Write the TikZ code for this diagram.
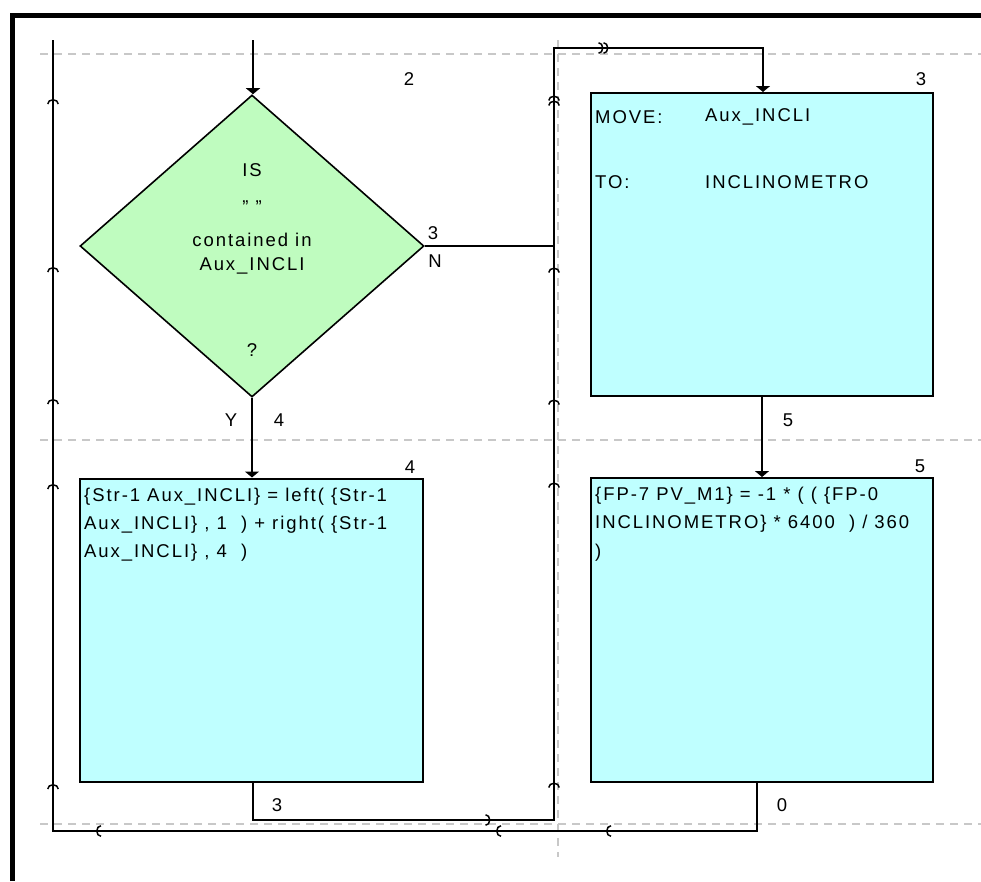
\documentclass[tikz,border=0pt]{standalone}
\usepackage{fontspec}
\setmainfont{Liberation Sans}[LetterSpace=10.5]
\usetikzlibrary{arrows.meta,decorations.markings,shapes.geometric}
\definecolor{dgreen}{HTML}{BFFCBF}
\definecolor{bcyan}{HTML}{BFFFFF}
\definecolor{gridgrey}{HTML}{C8C8C8}
\newcommand{\chevmark}{\arrow{Arc Barb[width=12pt,length=5pt,line width=1.5pt]}}
\begin{document}
\begin{tikzpicture}[x=1pt,y=-1pt,
  conn/.style={line width=1.8pt, draw=black},
  entry/.style={conn, -{Triangle[width=14pt,length=6pt]}},
  gridln/.style={draw=gridgrey, line width=1.5pt, dash pattern=on 8pt off 6pt},
  flowbox/.style={draw=black, line width=2pt, fill=bcyan, rectangle, inner sep=0pt},
  decbox/.style={draw=black, line width=1.6pt, fill=dgreen, diamond, inner sep=0pt},
  txt/.style={inner sep=0pt, font=\fontsize{18.5}{22}\selectfont},
  ltxt/.style={txt, anchor=west},
  marksA/.style={postaction={decorate}, decoration={markings,
    mark=at position 199pt with {\chevmark},
    mark=at position 309pt with {\chevmark},
    mark=at position 709pt with {\chevmark},
    mark=at position 799pt with {\chevmark},
    mark=at position 1099pt with {\chevmark},
    mark=at position 1184pt with {\chevmark},
    mark=at position 1316pt with {\chevmark},
    mark=at position 1484pt with {\chevmark}}},
  marksB/.style={postaction={decorate}, decoration={markings,
    mark=at position 275pt with {\chevmark},
    mark=at position 376pt with {\chevmark},
    mark=at position 676pt with {\chevmark},
    mark=at position 759pt with {\chevmark},
    mark=at position 891pt with {\chevmark},
    mark=at position 1058pt with {\chevmark},
    mark=at position 1063pt with {\chevmark},
    mark=at position 1160pt with {\chevmark},
    mark=at position 1165pt with {\chevmark}}}
]
\useasboundingbox (0,0) rectangle (981,881);
\fill[white] (0,0) rectangle (981,881);
% frame
\draw[line width=5pt] (12.5,881) -- (12.5,15.5) -- (981,15.5);
% grid
\draw[gridln] (40,54) -- (981,54);
\draw[gridln] (40,440) -- (981,440);
\draw[gridln] (40,824) -- (981,824);
\draw[gridln] (558,40) -- (558,857);

% shapes
\node[decbox, minimum width=344pt, minimum height=302pt] (dia) at (252,246) {};
\node[flowbox, minimum width=343pt, minimum height=303pt] (b4) at (251,630) {};
\node[flowbox, minimum width=342pt, minimum height=303pt] (b3) at (762,244.5) {};
\node[flowbox, minimum width=342pt, minimum height=304pt] (b5) at (762,630) {};

% free ends
\coordinate (ttop) at (253,40);
\coordinate (ltop) at (53,40);
\coordinate (lbot) at (53,831);
\coordinate (mbot) at (554,820);
\coordinate (mtop) at (554,48);

% connectors
\draw[entry] (ttop) -- (ttop |- dia.north);
\draw[entry] (dia.south) -- (dia.south |- b4.north);
\draw[entry] (b3.south) -- (b5.north);
\draw[conn] (dia.east) -- (dia.east -| mtop);
\draw[conn, marksA] ([xshift=-5pt]b5.south) |- (lbot) -- (ltop);
\draw[entry, marksB] ([xshift=2pt]b4.south) |- (mbot) -- (mtop) -| ([xshift=1pt]b3.north);

% diamond text
\node[txt] (d1) at (252,170) {IS};
\node[txt] (d2) at (252,207) {" "};
\node[txt] (d3) at (252,240) {contained in};
\node[txt] (d4) at (252,266) {Aux\_INCLI};
\node[txt] (d5) at (252,350) {?};

% labels
\node[txt] (l2) at (409,79) {2};
\node[txt] (l3a) at (921,79) {3};
\node[txt] (l3n) at (433,233) {3};
\node[txt] (lN) at (435,261) {N};
\node[txt] (lY) at (231,420) {Y};
\node[txt] (l4a) at (279,420) {4};
\node[txt] (l4b) at (410,467) {4};
\node[txt] (l5a) at (788,420) {5};
\node[txt] (l5b) at (920,466) {5};
\node[txt] (l3b) at (277,805) {3};
\node[txt] (l0) at (782,805) {0};

% box 3 text
\node[ltxt] (m1) at (595,117) {MOVE:};
\node[ltxt] (m2) at (705,117) {Aux\_INCLI};
\node[ltxt] (m3) at (595,182) {TO:};
\node[ltxt] (m4) at (705,182) {INCLINOMETRO};

% box 4 text
\node[ltxt] (s1) at (84,497) {\{Str-1 Aux\_INCLI\} = left( \{Str-1};
\node[ltxt] (s2) at (84,525) {Aux\_INCLI\} , 1 \ ) + right( \{Str-1};
\node[ltxt] (s3) at (84,553) {Aux\_INCLI\} , 4 \ )};

% box 5 text
\node[ltxt] (f1) at (595,496) {\{FP-7 PV\_M1\} = -1 * ( ( \{FP-0};
\node[ltxt] (f2) at (595,524) {INCLINOMETRO\} * 6400 \ ) / 360};
\node[ltxt] (f3) at (595,553) {)};
\end{tikzpicture}
\end{document}
